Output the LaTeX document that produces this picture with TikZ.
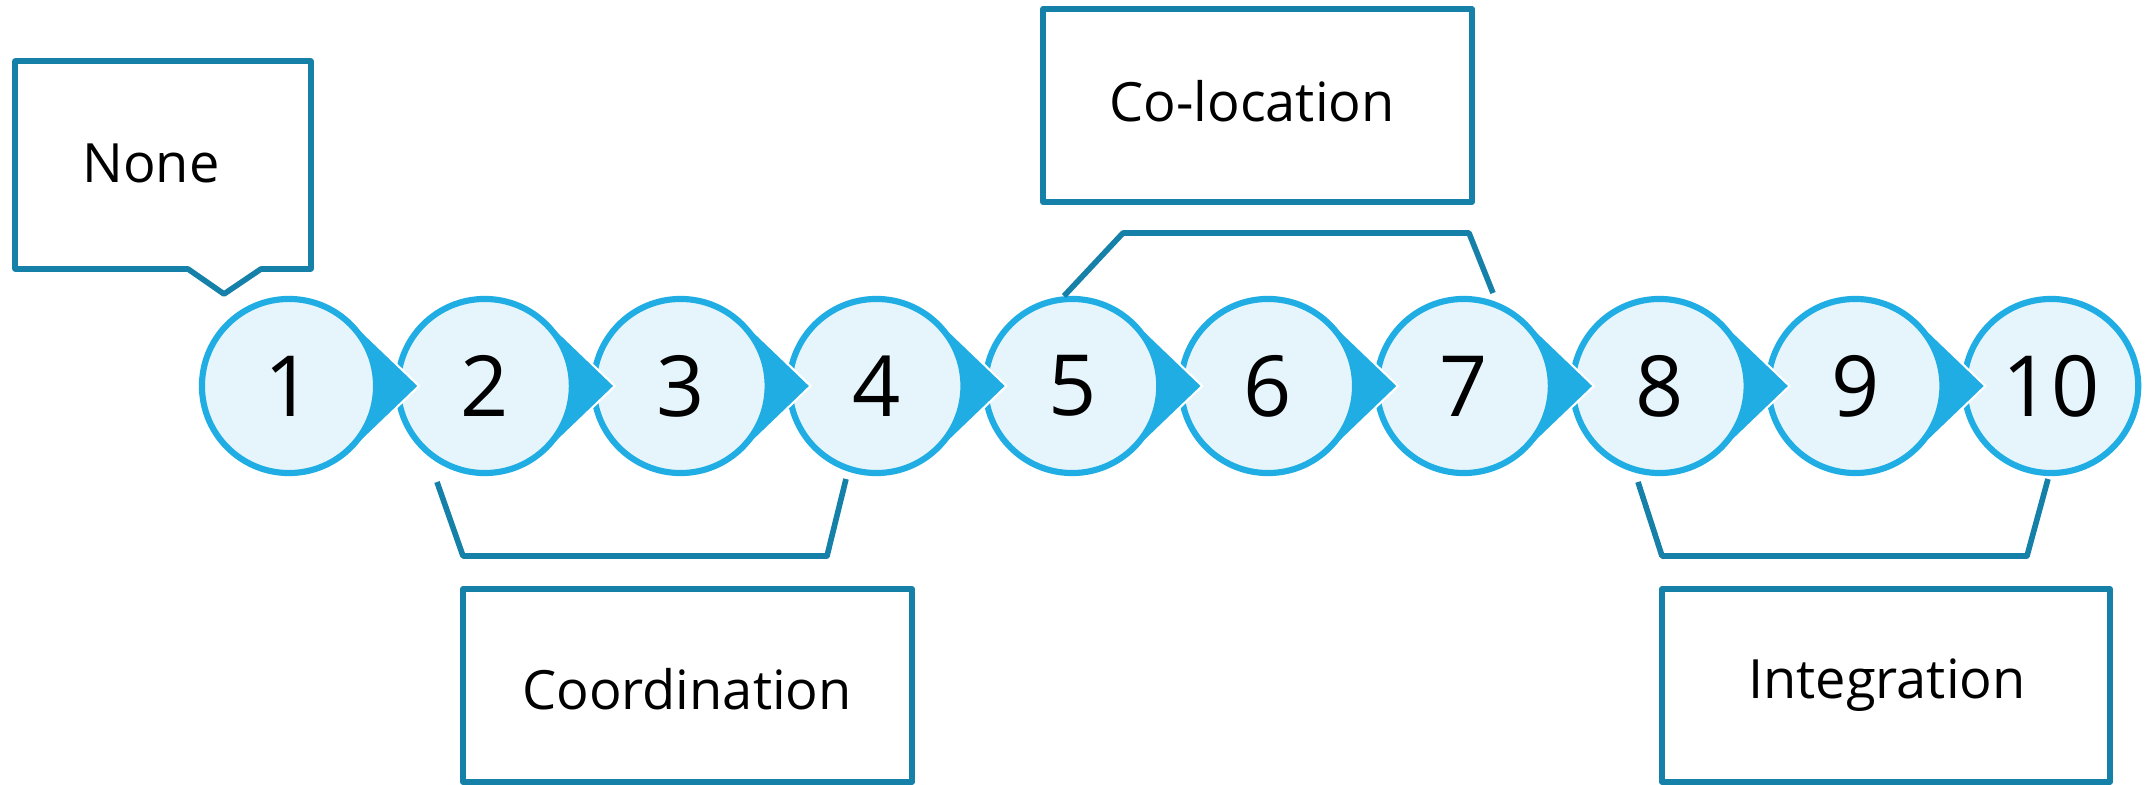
\documentclass[tikz,border=0pt]{standalone}
\usepackage{fontspec}
\setmainfont{Open Sans}
\usepackage{tikz}
\usetikzlibrary{calc}
\definecolor{stepblue}{RGB}{31,173,227}
\definecolor{steplight}{RGB}{230,245,252}
\definecolor{labelblue}{RGB}{21,128,168}
\newcommand{\stepgap}{195.8}
\newcommand{\steprow}{386}
\tikzset{stepcircle/.style={circle, draw=stepblue, fill=steplight, line width=1.75pt, minimum size=1.74cm, inner sep=0pt, font=\fontsize{24}{24}\selectfont}}
\tikzset{steptip/.style={fill=stepblue, draw=white, line width=0.6pt}}
\tikzset{labelbox/.style={draw=labelblue, line width=1.6pt, line join=round, fill=white}}
\tikzset{bracket/.style={draw=labelblue, line width=1.6pt, line join=round}}
\tikzset{labeltext/.style={anchor=base, inner sep=0pt, font=\fontsize{15.4}{15.4}\selectfont}}

\begin{document}
\begin{tikzpicture}[x=0.01cm, y=-0.01cm]
  \useasboundingbox (0,0) rectangle (2147,785);

  % --- steps, right to left so each tip lies over the next circle ---
  \foreach \i in {10,9,...,1} {
    \pgfmathsetmacro{\cx}{289+(\i-1)*\stepgap}
    \ifnum\i<10
      \filldraw[steptip] (\cx,\steprow) -- +(62.3,-65) -- +(130,0) -- +(62.3,65) -- cycle;
    \fi
    \node[stepcircle] (c\i) at (\cx,\steprow) {\i};
  }

  % --- None ---
  \draw[labelbox] (15,61) -- (311,61) -- (311,269) -- (261,269) -- (224,294)
                  -- (188,269) -- (15,269) -- cycle;
  \node[labeltext] (none) at (151,183) {None};

  % --- Coordination ---
  \draw[bracket] (437,482) -- (463,556) -- (827,556) -- (846,479);
  \draw[labelbox] (463,589) rectangle (912,782);
  \node[labeltext] (coord) at (687,709) {Coordination};

  % --- Co-location ---
  \draw[bracket] (1064,296) -- (1123,233) -- (1469,233) -- (1493,293);
  \draw[labelbox] (1043,9) rectangle (1472,202);
  \node[labeltext] (coloc) at (1252,122) {Co-location};

  % --- Integration ---
  \draw[bracket] (1638,482) -- (1662,556) -- (2027,556) -- (2048,479);
  \draw[labelbox] (1662,589) rectangle (2110,782);
  \node[labeltext] (integ) at (1887,698) {Integration};

\end{tikzpicture}
\end{document}
